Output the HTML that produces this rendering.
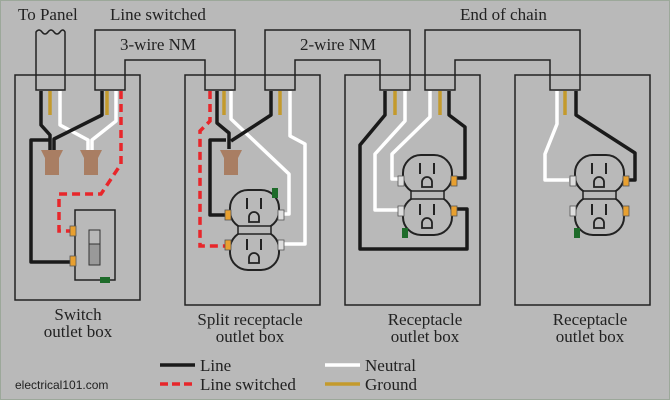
<!DOCTYPE html>
<html><head><meta charset="utf-8"><style>
html,body{margin:0;padding:0;background:#b9b9b9}
svg{display:block}
text{font-family:"Liberation Serif",serif;font-size:17px;fill:#222}
</style></head><body>
<svg width="670" height="400" viewBox="0 0 670 400" xmlns="http://www.w3.org/2000/svg">
<defs>
<g id="recb">
  <rect x="0" y="0" width="49" height="39" rx="18" fill="#b9b9b9" stroke="#222" stroke-width="2"/>
  <rect x="0" y="41" width="49" height="39" rx="18" fill="#b9b9b9" stroke="#222" stroke-width="2"/>
  <rect x="8" y="36" width="33" height="8" fill="#b9b9b9" stroke="#222" stroke-width="1.5"/>
  <path d="M17 8v11M31 8v11M17 49v11M31 49v11" stroke="#222" stroke-width="2"/>
  <path d="M19 32v-5a5 5 0 0 1 10 0v5z M19 73v-5a5 5 0 0 1 10 0v5z" fill="none" stroke="#222" stroke-width="1.8"/>
</g>
<g id="rec">
  <use href="#recb"/>
  <rect x="-5" y="21" width="6" height="10" fill="#ddd" stroke="#555" stroke-width="0.8"/>
  <rect x="-5" y="51" width="6" height="10" fill="#ddd" stroke="#555" stroke-width="0.8"/>
  <rect x="48" y="21" width="6" height="10" fill="#e8a030" stroke="#555" stroke-width="0.8"/>
  <rect x="48" y="51" width="6" height="10" fill="#e8a030" stroke="#555" stroke-width="0.8"/>
</g>
</defs>
<rect x="0" y="0" width="670" height="400" fill="#b9b9b9"/>
<rect x="0.5" y="0.5" width="669" height="399" fill="none" stroke="#9ca89a"/>
<g fill="none" stroke="#222" stroke-width="1.5">
<rect x="15" y="75" width="125" height="225"/>
<rect x="185" y="75" width="135" height="230"/>
<rect x="345" y="75" width="135" height="230"/>
<rect x="515" y="75" width="135" height="230"/>
</g>
<g fill="#b9b9b9" stroke="#222" stroke-width="1.5">
<path d="M36 90V32 q3 -4 6 0 q3 4 6 0 q3 -4 6 0 q3 4 6 0 q3 -4 5 0 V90z"/>
<path d="M95 90V30H235V90H205V60H125V90z"/>
<path d="M265 90V30H410V90H380V60H295V90z"/>
<path d="M425 90V30H580V90H550V60H455V90z"/>
</g>
<path d="M36 75H65M95 75H125M205 75H235M265 75H295M380 75H410M425 75H455M550 75H580" stroke="#222" stroke-width="1.5"/>
<g stroke="#c49a2c" stroke-width="3.5">
<path d="M50 91v24M107 91v24M224 91v24M280 91v24M395 91v24M440 91v24M565 91v24"/>
</g>
<g fill="none" stroke="#fff" stroke-width="3.5" stroke-linejoin="round">
<path d="M60 91v34l28 15v10"/>
<path d="M116 91v30l-24 19v10"/>
<path d="M231 91v28l58 55v40h-8"/>
<path d="M290 91v45l15 8v100h-22"/>
<path d="M405 91v30l-30 33v56h23"/>
<path d="M430 91v26l-38 37v25h6"/>
<path d="M557 91v33l-12 30v26h24"/>
</g>
<g fill="none" stroke="#1a1a1a" stroke-width="3.5" stroke-linejoin="round">
<path d="M41 91v34l9 10v15"/>
<path d="M102 91v24l-48 24v11"/>
<path d="M50 140H31V262h41"/>
<path d="M217 91v32l12 10v16"/>
<path d="M271 91v24l-40 26"/>
<path d="M226 140h-16v75h18"/>
<path d="M385 91v24l-25 30v104h107v-40h-10"/>
<path d="M449 91v24l16 12v51h-9"/>
<path d="M576 91v24l59 38v27h-10"/>
</g>
<g fill="none" stroke="#e8262a" stroke-width="3.5" stroke-dasharray="8,5">
<path d="M121 91v73l-20 30H59v37h12"/>
<path d="M210 91v30l-10 10v115h28"/>
</g>
<g fill="#a97e63">
<path d="M41 150h22l-4 8v17h-14v-17z"/>
<path d="M80 150h22l-4 8v17h-14v-17z"/>
<path d="M220 150h22l-4 8v17h-14v-17z"/>
</g>
<rect x="75" y="210" width="40" height="70" fill="#b9b9b9" stroke="#222" stroke-width="1.5"/>
<rect x="89" y="230" width="11" height="35" fill="#999" stroke="#333"/>
<rect x="89" y="230" width="11" height="14" fill="#b9b9b9" stroke="#333"/>
<rect x="70" y="226" width="6" height="10" fill="#e8a030" stroke="#555" stroke-width="0.8"/>
<rect x="70" y="256" width="6" height="10" fill="#e8a030" stroke="#555" stroke-width="0.8"/>
<rect x="100" y="277" width="10" height="6" fill="#1e6b2a"/>
<g transform="translate(230,190)"><use href="#recb"/></g>
<rect x="225" y="210" width="6" height="10" fill="#e8a030" stroke="#555" stroke-width="0.8"/>
<rect x="225" y="240" width="6" height="10" fill="#e8a030" stroke="#555" stroke-width="0.8"/>
<rect x="278" y="210" width="6" height="10" fill="#ddd" stroke="#555" stroke-width="0.8"/>
<rect x="278" y="240" width="6" height="10" fill="#ddd" stroke="#555" stroke-width="0.8"/>
<rect x="272" y="188" width="6" height="10" fill="#1e6b2a"/>
<g transform="translate(403,155)"><use href="#rec"/></g>
<rect x="402" y="228" width="6" height="10" fill="#1e6b2a"/>
<g transform="translate(575,155)"><use href="#rec"/></g>
<rect x="574" y="228" width="6" height="10" fill="#1e6b2a"/>
<text x="18" y="20">To Panel</text>
<text x="110" y="20">Line switched</text>
<text x="120" y="50">3-wire NM</text>
<text x="300" y="50">2-wire NM</text>
<text x="460" y="20">End of chain</text>
<g text-anchor="middle">
<text x="78" y="320">Switch</text><text x="78" y="337">outlet box</text>
<text x="250" y="325">Split receptacle</text><text x="250" y="342">outlet box</text>
<text x="425" y="325">Receptacle</text><text x="425" y="342">outlet box</text>
<text x="590" y="325">Receptacle</text><text x="590" y="342">outlet box</text>
</g>
<path d="M160 365h35" stroke="#1a1a1a" stroke-width="3.5"/>
<path d="M160 384h35" stroke="#e8262a" stroke-width="3.5" stroke-dasharray="8,4"/>
<path d="M325 365h35" stroke="#fff" stroke-width="3.5"/>
<path d="M325 384h35" stroke="#c49a2c" stroke-width="3.5"/>
<text x="200" y="371">Line</text>
<text x="200" y="390">Line switched</text>
<text x="365" y="371">Neutral</text>
<text x="365" y="390">Ground</text>
<text x="15" y="389" style="font-family:'Liberation Sans',sans-serif;font-size:12px">electrical101.com</text>
</svg>
</body></html>
